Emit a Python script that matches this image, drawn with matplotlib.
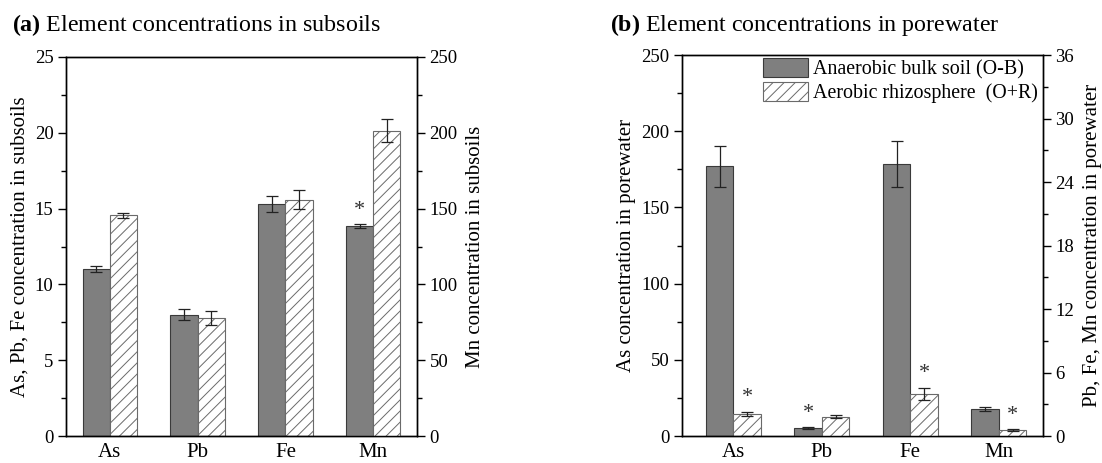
import numpy as np
import matplotlib
matplotlib.use("Agg")
import matplotlib.pyplot as plt
import matplotlib.patches as mpatches
from matplotlib.ticker import MultipleLocator

# -------------------------------------------------
# Datos
# -------------------------------------------------
elements = ["As", "Pb", "Fe", "Mn"]

# (a) subsoils: As, Pb, Fe on left axis, Mn on right axis
soil_ob = [11.0, 8.0, 15.3, 138.5]
soil_ob_err = [0.2, 0.35, 0.5, 1.3]
soil_or = [14.55, 7.8, 15.6, 201.5]
soil_or_err = [0.15, 0.45, 0.65, 7.3]
soil_star_ob = [False, False, False, True]
soil_star_or = [False, False, False, False]

# (b) porewater: As on left axis, Pb, Fe, Mn on right axis
pw_ob = [177.0, 0.75, 25.7, 2.52]
pw_ob_err = [13.5, 0.08, 2.2, 0.19]
pw_or = [14.4, 1.83, 4.0, 0.57]
pw_or_err = [1.5, 0.12, 0.56, 0.05]
pw_star_ob = [False, True, False, False]
pw_star_or = [True, False, True, True]

DARK = "#7f7f7f"
EDGE = "#3a3a3a"
HATCH_EDGE = "#6a6a6a"
W = 0.31

plt.rcParams["font.family"] = ["Liberation Serif", "DejaVu Serif"]
plt.rcParams["hatch.linewidth"] = 0.7
plt.rcParams["mathtext.fontset"] = "custom"
plt.rcParams["mathtext.rm"] = "Liberation Serif"
plt.rcParams["mathtext.bf"] = "Liberation Serif:bold"

fig = plt.figure(figsize=(11.02, 4.63), dpi=100)


def estilo(ax):
    ax.tick_params(axis="y", which="major", direction="out", length=6, width=1,
                   labelsize=13.5, pad=3)
    ax.tick_params(axis="y", which="minor", direction="out", length=3.5, width=1)
    ax.tick_params(axis="x", length=0, labelsize=15, pad=5)
    for s in ax.spines.values():
        s.set_linewidth(1.0)


def panel(rect, ob, ob_err, orr, or_err, star_ob, star_or, split, ylim_l, ylim_r,
          maj_l, min_l, maj_r, min_r, lab_l, lab_r, xlim, title_bold, title_txt,
          title_x, legend=False):
    ax = fig.add_axes(rect)
    ax2 = ax.twinx()
    x = np.arange(len(elements))
    ekw = dict(elinewidth=0.9, capthick=0.9, ecolor="#222222")
    for i in range(len(elements)):
        target = ax if split[i] == "l" else ax2
        ylim = ylim_l if split[i] == "l" else ylim_r
        target.bar(x[i] - W / 2, ob[i], W, color=DARK, edgecolor=EDGE, linewidth=0.8,
                   yerr=ob_err[i], capsize=4, error_kw=ekw)
        target.bar(x[i] + W / 2, orr[i], W, color="white", edgecolor=HATCH_EDGE,
                   hatch="///", linewidth=0.8, yerr=or_err[i], capsize=4, error_kw=ekw)
        off = 0.012 * ylim[1]
        if star_ob[i]:
            target.text(x[i] - W / 2, ob[i] + ob_err[i] + off, "*", ha="center", va="bottom",
                        fontsize=16, color="#333333")
        if star_or[i]:
            target.text(x[i] + W / 2, orr[i] + or_err[i] + off, "*", ha="center", va="bottom",
                        fontsize=16, color="#333333")
    ax.set_xlim(*xlim)
    ax.set_ylim(*ylim_l)
    ax2.set_ylim(*ylim_r)
    ax.set_xticks(x)
    ax.set_xticklabels(elements)
    ax.yaxis.set_major_locator(MultipleLocator(maj_l))
    ax.yaxis.set_minor_locator(MultipleLocator(min_l))
    ax2.yaxis.set_major_locator(MultipleLocator(maj_r))
    ax2.yaxis.set_minor_locator(MultipleLocator(min_r))
    estilo(ax)
    estilo(ax2)
    ax.set_ylabel(lab_l, fontsize=15, labelpad=4)
    ax2.set_ylabel(lab_r, fontsize=15, labelpad=6)
    fig.text(title_x, 0.945, r"$\mathbf{" + title_bold + "}$ " + title_txt,
             fontsize=17.3, ha="left", va="center")
    if legend:
        h1 = mpatches.Patch(facecolor=DARK, edgecolor=EDGE, linewidth=0.8)
        h2 = mpatches.Patch(facecolor="white", edgecolor=HATCH_EDGE, hatch="///", linewidth=0.8)
        ax.legend([h1, h2], ["Anaerobic bulk soil (O-B)", "Aerobic rhizosphere  (O+R)"],
                  loc="upper right", frameon=False, fontsize=14.4, handlelength=2.25,
                  handleheight=1.1, handletextpad=0.25, labelspacing=0.12,
                  borderaxespad=0.0, borderpad=0.1, bbox_to_anchor=(0.992, 0.997))
    return ax, ax2


panel([0.0599, 0.0583, 0.3185, 0.8186], soil_ob, soil_ob_err, soil_or, soil_or_err,
      soil_star_ob, soil_star_or, ["l", "l", "l", "r"], (0, 25), (0, 250),
      5, 2.5, 50, 25, "As, Pb, Fe concentration in subsoils", "Mn concentration in subsoils",
      (-0.5, 3.5), "(a)", "Element concentrations in subsoils", 12 / 1102)

panel([0.6189, 0.0583, 0.3276, 0.8229], pw_ob, pw_ob_err, pw_or, pw_or_err,
      pw_star_ob, pw_star_or, ["l", "r", "r", "r"], (0, 250), (0, 36),
      50, 25, 6, 3, "As concentration in porewater", "Pb, Fe, Mn concentration in porewater",
      (-0.58, 3.5), "(b)", "Element concentrations in porewater", 610 / 1102, legend=True)

fig.savefig("out.png", dpi=100)
